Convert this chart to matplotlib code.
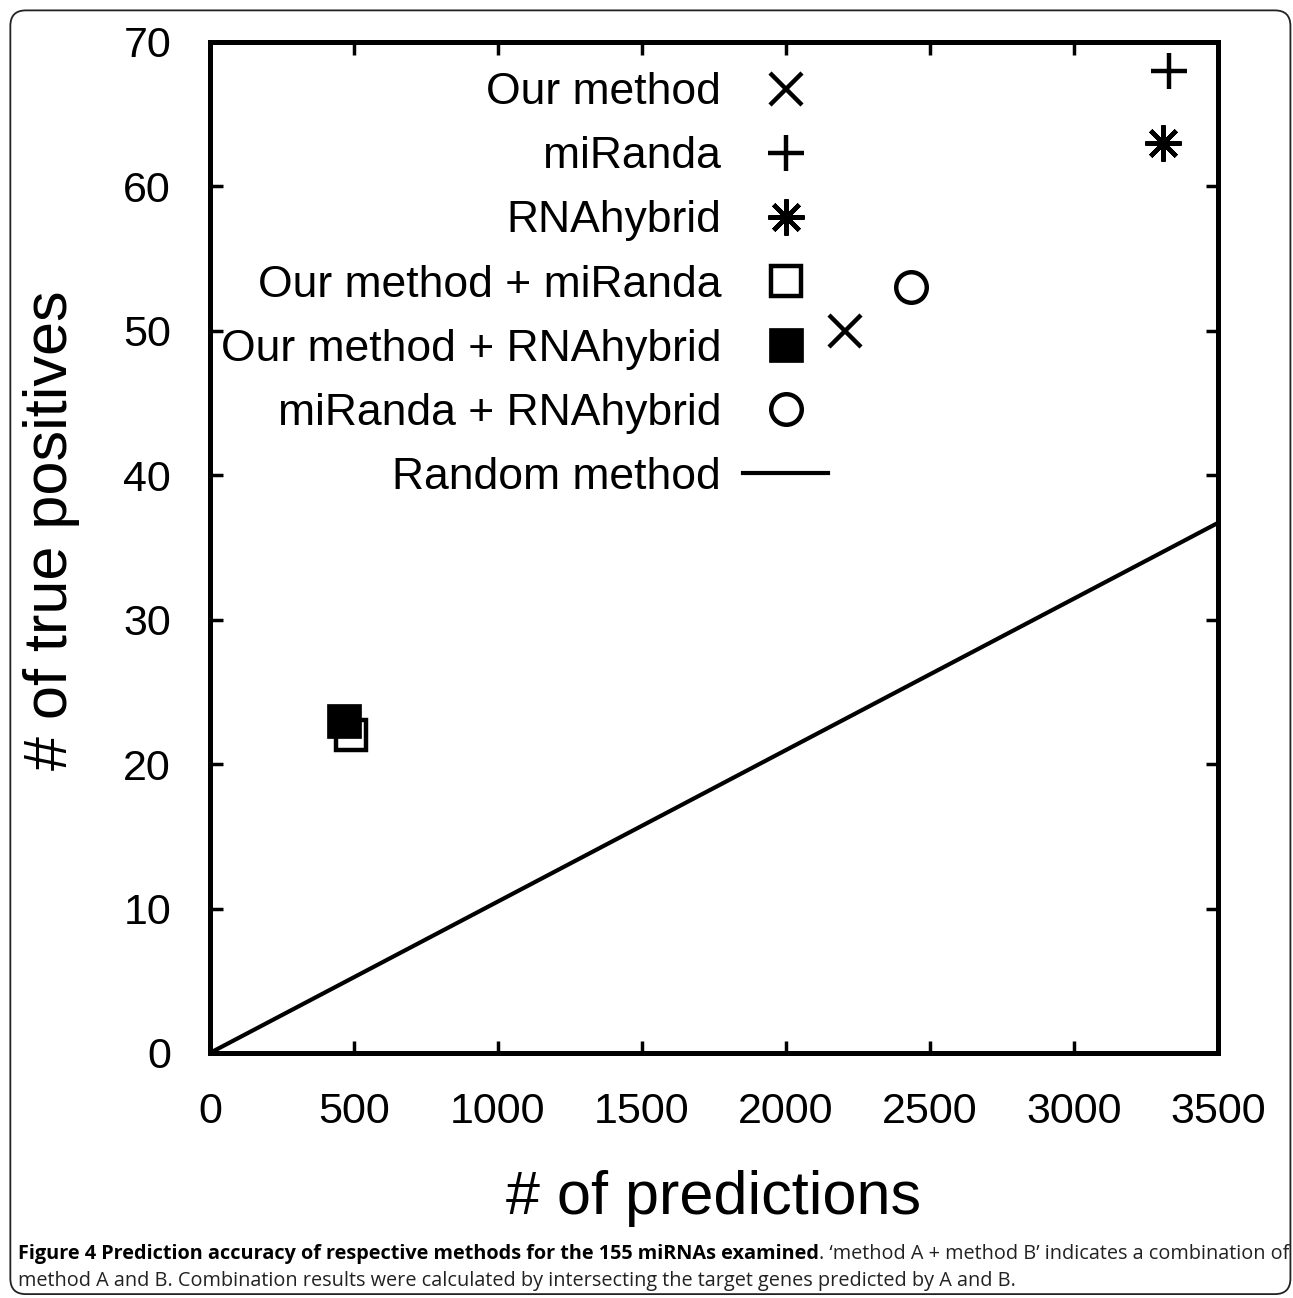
import matplotlib
matplotlib.use("Agg")
import matplotlib.pyplot as plt
from matplotlib import font_manager
from matplotlib.patches import FancyBboxPatch

plt.rcParams['font.family'] = ['Liberation Sans', 'DejaVu Sans']

# data: (# of predictions, # of true positives)
methods = ['Our method', 'miRanda', 'RNAhybrid', 'Our method + miRanda',
           'Our method + RNAhybrid', 'miRanda + RNAhybrid']
n_pred = [2205, 3330, 3310, 488, 465, 2435]
n_tp = [50, 68, 63, 22, 23, 53]
random_x = [0, 3500]
random_y = [0, 36.7]

xticks = [0, 500, 1000, 1500, 2000, 2500, 3000, 3500]
yticks = [0, 10, 20, 30, 40, 50, 60, 70]

marker_styles = [
    dict(marker='x', ms=23, mew=3.2, mfc='none'),
    dict(marker='+', ms=26, mew=3.2, mfc='none'),
    dict(marker=(8, 2, 0), ms=26, mew=3.2, mfc='none'),
    dict(marker='s', ms=22, mew=3.2, mfc='white'),
    dict(marker='s', ms=25, mew=0.5, mfc='black'),
    dict(marker='o', ms=22, mew=3.2, mfc='none'),
]

fig = plt.figure(figsize=(12.93, 12.98), dpi=100)
ax = fig.add_axes([0.1624, 0.1888, 0.7796, 0.7789])

for name, x, y, st in zip(methods, n_pred, n_tp, marker_styles):
    ax.plot([x], [y], linestyle='none', color='black', mec='black',
            label=name, **st)
ax.plot(random_x, random_y, color='black', lw=3.0, label='Random method')

ax.set_xlim(0, 3500)
ax.set_ylim(0, 70)
ax.set_xticks(xticks)
ax.set_yticks(yticks)
ax.tick_params(direction='in', length=9, width=2.5, top=True, right=True,
               labelsize=31, pad=28)
for s in ax.spines.values():
    s.set_linewidth(3.6)

ax.set_xlabel('# of predictions', fontsize=44)
ax.set_ylabel('# of true positives', fontsize=44)
ax.xaxis.set_label_coords(0.5, -0.116)
ax.yaxis.set_label_coords(-0.129, 0.517)

leg = ax.legend(loc='upper right', bbox_to_anchor=(0.613, 0.970),
                frameon=False, markerfirst=False, fontsize=32,
                handlelength=1.9, handletextpad=0.5, labelspacing=0.52,
                borderpad=0, borderaxespad=0, numpoints=1)

# rounded frame round the whole figure
frame = FancyBboxPatch((0.008, 0.003), 0.99, 0.989,
                       boxstyle='round,pad=0,rounding_size=0.012',
                       transform=fig.transFigure, fill=False,
                       edgecolor='#222222', lw=1.3)
fig.patches.append(frame)

# caption
names = {f.name for f in font_manager.fontManager.ttflist}
cap_font = 'Liberation Sans Narrow' if 'Liberation Sans Narrow' in names else 'Open Sans'
bold_txt = 'Figure 4 Prediction accuracy of respective methods for the 155 miRNAs examined'
rest_txt = '. \u2018method A + method B\u2019 indicates a combination of'
line2 = 'method A and B. Combination results were calculated by intersecting the target genes predicted by A and B.'

r = fig.canvas.get_renderer()
fs = 13
t1 = fig.text(18 / 1293, 1 - 1254 / 1298, bold_txt, fontsize=fs, weight='bold',
              family=cap_font, va='center', ha='left')
bb = t1.get_window_extent(r)
t2 = fig.text(bb.x1 / 1293, 1 - 1254 / 1298, rest_txt, fontsize=fs,
              family=cap_font, va='center', ha='left', color='#222222')
w = t2.get_window_extent(r).x1 - bb.x0
scale = (1280 - 18) / w
fs = fs * scale
t1.set_fontsize(fs)
bb = t1.get_window_extent(r)
t2.set_fontsize(fs)
t2.set_x(bb.x1 / 1293)
fig.text(18 / 1293, 1 - 1281 / 1298, line2, fontsize=fs, family=cap_font,
         va='center', ha='left', color='#222222')

fig.savefig('out.png', dpi=100)
